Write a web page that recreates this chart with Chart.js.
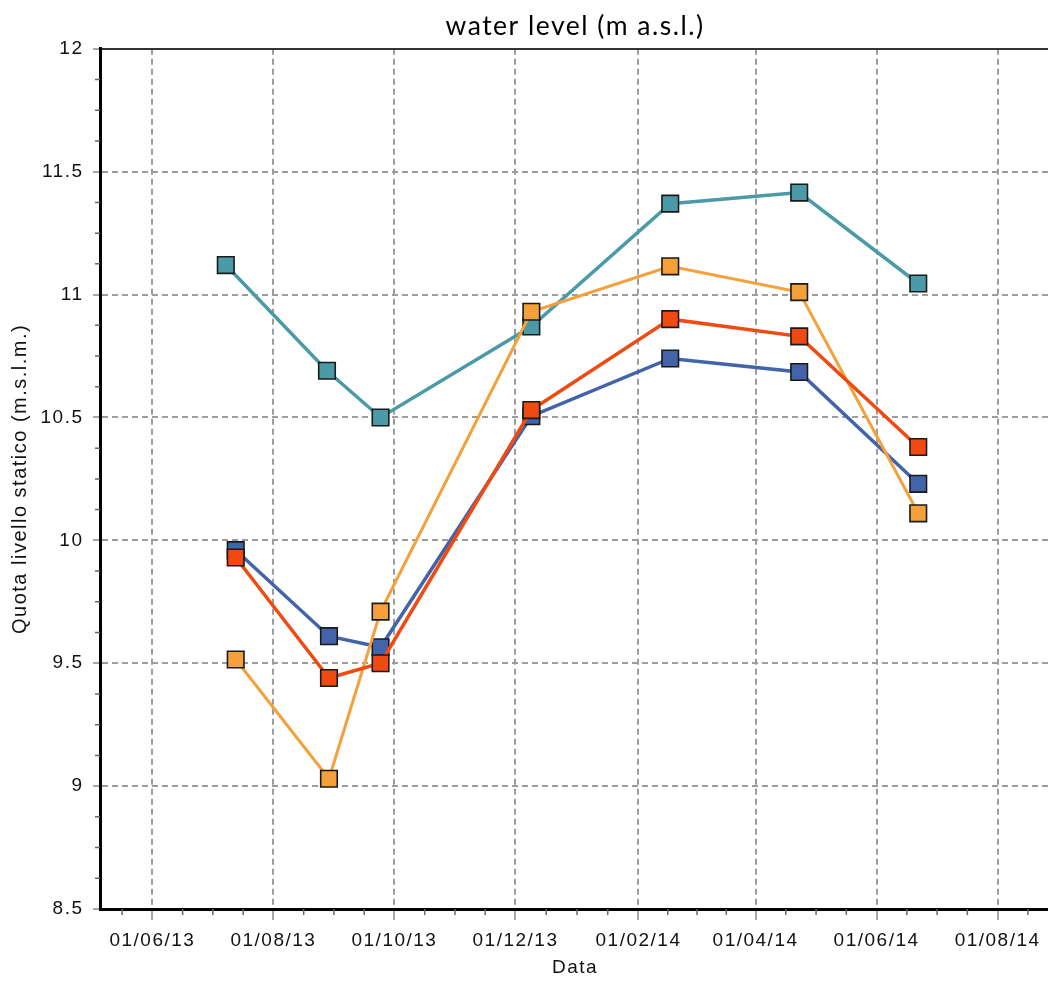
<!DOCTYPE html>
<html>
<head>
<meta charset="utf-8">
<script src="https://cdn.jsdelivr.net/npm/chart.js@4/dist/chart.umd.min.js"></script>
<style>
  html, body { margin: 0; padding: 0; background: #fff; overflow: hidden; }
  canvas { display: block; }
</style>
</head>
<body>
<canvas id="chart" width="1140" height="983"></canvas>
<script>
// Survey dates (first column of each well differs slightly)
const datesWellA = ['2013-07-08', '2013-08-28', '2013-09-24', '2013-12-09', '2014-02-17', '2014-04-23', '2014-06-22'];
const datesWells = ['2013-07-13', '2013-08-29', '2013-09-24', '2013-12-09', '2014-02-17', '2014-04-23', '2014-06-22'];

// Static water level, m a.s.l.
const levelsTeal   = [11.12, 10.69, 10.50, 10.87, 11.37, 11.415, 11.045];
const levelsBlue   = [9.96, 9.61, 9.565, 10.505, 10.74, 10.685, 10.23];
const levelsRed    = [9.93, 9.44, 9.50, 10.53, 10.90, 10.83, 10.38];
const levelsOrange = [9.515, 9.03, 9.71, 10.93, 11.115, 11.01, 10.11];

// Date axis ticks
const xTickDates  = ['2013-06-01', '2013-08-01', '2013-10-01', '2013-12-01', '2014-02-01', '2014-04-01', '2014-06-01', '2014-08-01'];
const xTickLabels = ['01/06/13', '01/08/13', '01/10/13', '01/12/13', '01/02/14', '01/04/14', '01/06/14', '01/08/14'];

// Dates are plotted as days since 1 June 2013 on a linear axis
const DAY0 = Date.UTC(2013, 5, 1);
const toDay = s => (Date.parse(s) - DAY0) / 86400000;
const xTickDays = xTickDates.map(toDay);
const points = (dates, values) => values.map((v, i) => ({ x: toDay(dates[i]), y: v }));

const AXIS_FONT = { family: "'Liberation Sans', Arial, sans-serif", size: 19 };
const GRID_GREY = '#9c9c9c';

function series(label, dates, values, color, width) {
  return {
    label,
    data: points(dates, values),
    borderColor: color,
    backgroundColor: color,
    borderWidth: width,
    tension: 0,
    pointStyle: 'rect',
    pointRadius: 11.7,
    pointHoverRadius: 11.7,
    pointBackgroundColor: color,
    pointBorderColor: '#1a1a1a',
    pointBorderWidth: 1.6
  };
}

// Slightly open tracking for the axis lettering
const textSpacing = {
  id: 'textSpacing',
  beforeUpdate(chart) { chart.ctx.letterSpacing = '1.5px'; },
  beforeDraw(chart) { chart.ctx.letterSpacing = '1.5px'; }
};

// Minor tick marks: four subdivisions per major interval on both axes
const minorTicks = {
  id: 'minorTicks',
  afterDraw(chart) {
    const { ctx, chartArea: a } = chart;
    const x = chart.scales.x, y = chart.scales.y;
    ctx.save();
    ctx.strokeStyle = '#666';
    ctx.lineWidth = 1.5;
    ctx.beginPath();
    for (let k = 0; k <= 28; k++) {
      if (k % 4 === 0) continue;
      const py = y.getPixelForValue(8.5 + k * 0.125);
      ctx.moveTo(a.left - 5, py);
      ctx.lineTo(a.left, py);
    }
    const xs = [];
    for (let i = 0; i < xTickDays.length - 1; i++) {
      const step = (xTickDays[i + 1] - xTickDays[i]) / 4;
      for (let q = 1; q < 4; q++) xs.push(xTickDays[i] + q * step);
    }
    const firstStep = (xTickDays[1] - xTickDays[0]) / 4;
    for (let v = xTickDays[0] - firstStep; v >= x.min; v -= firstStep) xs.push(v);
    const n = xTickDays.length;
    const lastStep = (xTickDays[n - 1] - xTickDays[n - 2]) / 4;
    for (let v = xTickDays[n - 1] + lastStep; v <= x.max; v += lastStep) xs.push(v);
    xs.forEach(v => {
      const px = x.getPixelForValue(v);
      ctx.moveTo(px, a.bottom);
      ctx.lineTo(px, a.bottom + 6);
    });
    ctx.stroke();
    ctx.restore();
  }
};

new Chart(document.getElementById('chart'), {
  type: 'line',
  data: {
    datasets: [
      series('Pozzo 3', datesWells, levelsRed, '#ee4a12', 3.5),
      series('Pozzo 4', datesWells, levelsOrange, '#f4a13b', 3),
      series('Pozzo 2', datesWells, levelsBlue, '#4364a8', 3.5),
      series('Pozzo 1', datesWellA, levelsTeal, '#4a9aa7', 3.5)
    ]
  },
  options: {
    responsive: false,
    animation: false,
    devicePixelRatio: 1,
    layout: { padding: { left: 0, right: 90, top: 0, bottom: 0 } },
    plugins: {
      legend: { display: false },
      tooltip: { enabled: false },
      title: {
        display: true,
        fullSize: false,
        text: 'water level (m a.s.l.)',
        color: '#000',
        font: { family: "Lato, 'Open Sans', sans-serif", size: 26.5, weight: 'normal' },
        padding: { top: 11, bottom: 6 }
      }
    },
    scales: {
      x: {
        type: 'linear',
        position: 'bottom',
        min: -26.4,
        max: 452.4,
        afterFit(s) { s.height = 74; },
        afterBuildTicks(s) { s.ticks = xTickDays.map(v => ({ value: v })); },
        grid: { color: GRID_GREY, lineWidth: 2, tickLength: 11, tickColor: '#8a8a8a', tickWidth: 1.5 },
        border: { display: true, color: '#000', width: 3, dash: [6, 4] },
        ticks: {
          autoSkip: false,
          maxRotation: 0,
          padding: 9,
          color: '#111',
          font: AXIS_FONT,
          callback: (v, i) => xTickLabels[i]
        },
        title: { display: true, text: 'Data', color: '#111', font: AXIS_FONT, padding: { top: 0, bottom: 4 } }
      },
      x2: {
        type: 'linear',
        position: 'top',
        min: 0,
        max: 1,
        afterFit(s) { s.height = 0; },
        grid: { display: false, drawTicks: false },
        ticks: { display: false },
        border: { display: true, color: '#333', width: 2 }
      },
      y: {
        min: 8.5,
        max: 12,
        afterFit(s) { s.width = 100; },
        grid: {
          color: c => (c.tick && (c.tick.value === 12 || c.tick.value === 8.5)) ? 'rgba(0,0,0,0)' : GRID_GREY,
          lineWidth: 2,
          tickLength: 7,
          tickColor: '#8a8a8a',
          tickWidth: 1.5
        },
        border: { display: true, color: '#000', width: 3, dash: [6, 4] },
        ticks: { stepSize: 0.5, padding: 9.5, color: '#111', font: AXIS_FONT, callback: v => String(v) },
        title: {
          display: true,
          text: 'Quota livello statico (m.s.l.m.)',
          color: '#111',
          font: { family: "'Liberation Sans', Arial, sans-serif", size: 20 },
          padding: { top: 8, bottom: 0 }
        }
      }
    }
  },
  plugins: [textSpacing, minorTicks]
});
</script>
</body>
</html>
